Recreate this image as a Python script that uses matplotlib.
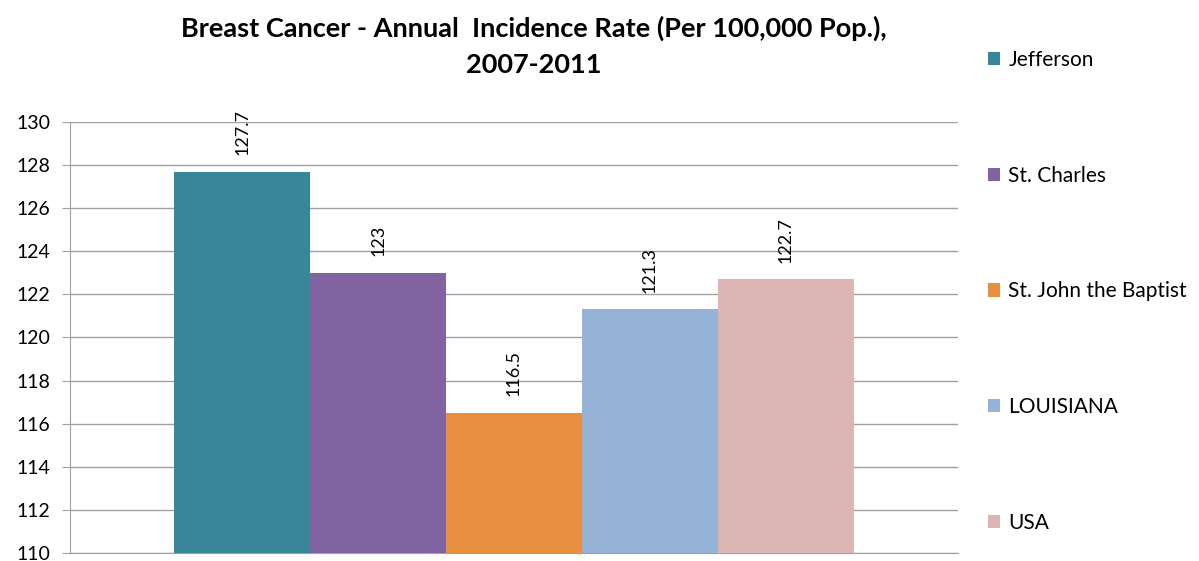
import numpy as np
import matplotlib.pyplot as plt

plt.rcParams['font.family'] = ['Lato', 'DejaVu Sans']

names = ["Jefferson", "St. Charles", "St. John the Baptist", "LOUISIANA", "USA"]
rates = [127.7, 123, 116.5, 121.3, 122.7]
labels = ["127.7", "123", "116.5", "121.3", "122.7"]
colors = ["#388698", "#8064A2", "#E8903F", "#95B3D7", "#DDB5B5"]

fig = plt.figure(figsize=(11.99, 5.61), dpi=100)
ax = fig.add_axes([0.0584, 0.0143, 0.7406, 0.7682])

w = 0.153
n = len(names)
for i in range(n):
    x = (i - (n - 1) / 2) * w
    ax.bar(x, rates[i] - 110, width=w, bottom=110, color=colors[i], label=names[i], zorder=3)
    ax.annotate(labels[i], (x, rates[i]), xytext=(0, 12), textcoords='offset points',
                rotation=90, ha='center', va='bottom', fontsize=13)

ax.set_xlim(-0.5, 0.5)
ax.set_ylim(110, 130)
ax.set_yticks(np.arange(110, 131, 2))
ax.set_xticks([])
ax.tick_params(axis='y', labelsize=14, length=6, color='#A0A0A0', pad=8)
ax.grid(axis='y', color='#A0A0A0', linewidth=1, zorder=0)
for s in ['top', 'right']:
    ax.spines[s].set_visible(False)
for s in ['left', 'bottom']:
    ax.spines[s].set_color('#A0A0A0')

fig.suptitle("Breast Cancer - Annual  Incidence Rate (Per 100,000 Pop.),\n2007-2011",
             x=0.445, y=0.972, fontsize=19.5, fontweight='bold', linespacing=1.6)

ax.legend(loc='upper left', bbox_to_anchor=(0.815, 0.93), bbox_transform=fig.transFigure,
          frameon=False, fontsize=15, labelspacing=4.6, handlelength=0.6, handleheight=0.6,
          handletextpad=0.4, borderpad=0)

fig.savefig("out.png", dpi=100)
